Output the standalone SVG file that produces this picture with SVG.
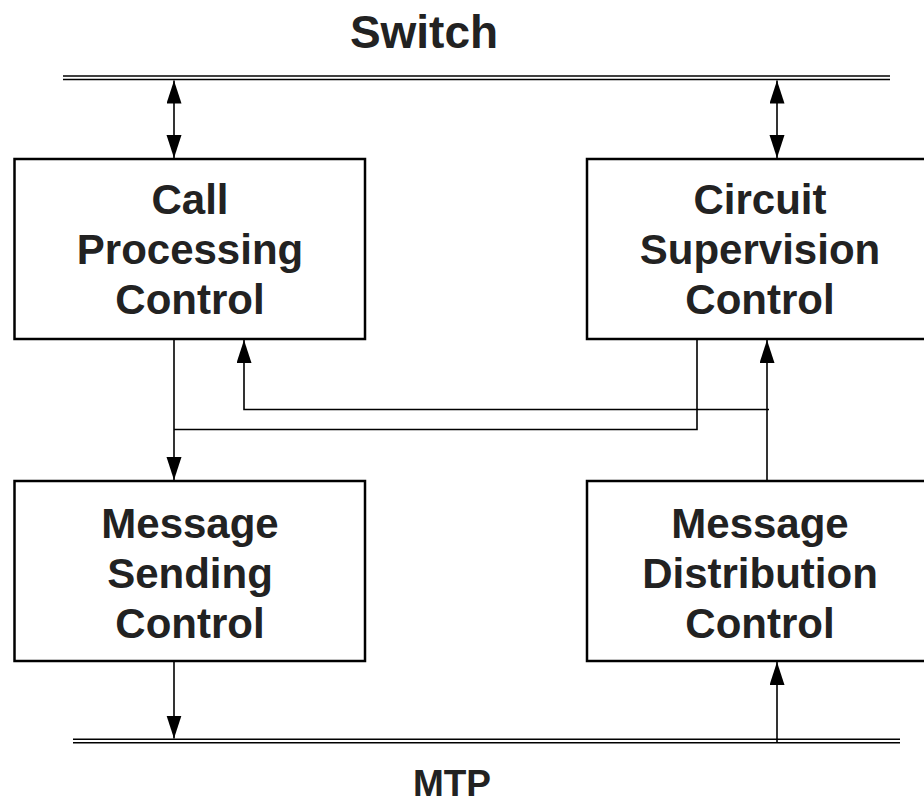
<svg xmlns="http://www.w3.org/2000/svg" width="924" height="804" viewBox="0 0 924 804">
<style>
.box{fill:#fff;stroke:#000;stroke-width:2.5}
.bus{stroke:#000;stroke-width:1.6;fill:none}
.con{stroke:#000;stroke-width:1.6;fill:none}
.t{font-family:"Liberation Sans",Arial,sans-serif;font-weight:bold;fill:#222;text-anchor:middle}
.bt{font-size:42px}
</style>
<defs>
<marker id="ah" markerUnits="userSpaceOnUse" markerWidth="24" markerHeight="16" refX="23" refY="7.5" orient="auto-start-reverse">
<path d="M0,0 L23,7.5 L0,15 z" fill="#000"/>
</marker>
</defs>
<g id="switch">
<line class="bus" x1="63" y1="76" x2="890" y2="76"/>
<line class="bus" x1="63" y1="79.5" x2="890" y2="79.5"/>
<text class="t" x="424" y="48" font-size="46">Switch</text>
</g>
<g id="mtp">
<line class="bus" x1="73" y1="739.2" x2="900" y2="739.2"/>
<line class="bus" x1="73" y1="742.8" x2="900" y2="742.8"/>
<text class="t" x="452" y="796" font-size="37">MTP</text>
</g>
<g id="call-processing">
<rect class="box" x="14.5" y="159" width="350.5" height="180"/>
<text class="t bt" x="190" y="214">Call</text>
<text class="t bt" x="190" y="264">Processing</text>
<text class="t bt" x="190" y="314">Control</text>
</g>
<g id="circuit-supervision">
<rect class="box" x="587" y="159" width="350" height="180"/>
<text class="t bt" x="760" y="214">Circuit</text>
<text class="t bt" x="760" y="264">Supervision</text>
<text class="t bt" x="760" y="314">Control</text>
</g>
<g id="message-sending">
<rect class="box" x="14.5" y="481" width="350.5" height="180"/>
<text class="t bt" x="190" y="538">Message</text>
<text class="t bt" x="190" y="588">Sending</text>
<text class="t bt" x="190" y="638">Control</text>
</g>
<g id="message-distribution">
<rect class="box" x="587" y="481" width="350" height="180"/>
<text class="t bt" x="760" y="538">Message</text>
<text class="t bt" x="760" y="588">Distribution</text>
<text class="t bt" x="760" y="638">Control</text>
</g>
<g id="connectors">
<line class="con" x1="174" y1="80.5" x2="174" y2="158" marker-start="url(#ah)" marker-end="url(#ah)"/>
<line class="con" x1="777" y1="80.5" x2="777" y2="158" marker-start="url(#ah)" marker-end="url(#ah)"/>
<line class="con" x1="174" y1="340" x2="174" y2="480" marker-end="url(#ah)"/>
<polyline class="con" points="174,429.5 697,429.5 697,340"/>
<polyline class="con" points="767,481 767,340" marker-end="url(#ah)"/>
<polyline class="con" points="769,409.5 244,409.5 244,340" marker-end="url(#ah)"/>
<line class="con" x1="174" y1="661" x2="174" y2="738.5" marker-end="url(#ah)"/>
<line class="con" x1="777" y1="743" x2="777" y2="662" marker-end="url(#ah)"/>
</g>
</svg>
